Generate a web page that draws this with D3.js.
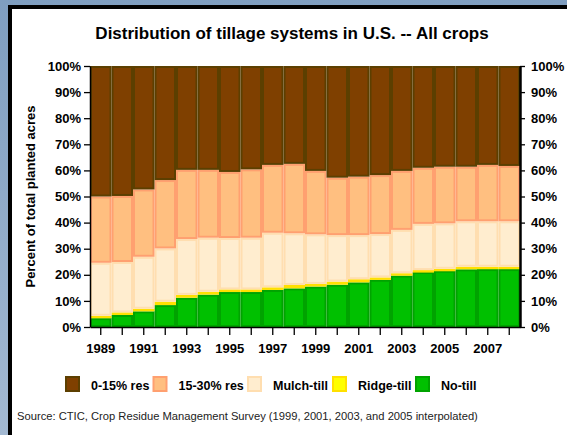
<!DOCTYPE html>
<html><head><meta charset="utf-8">
<script src="https://cdn.jsdelivr.net/npm/d3@7"></script>
<style>
html,body{margin:0;padding:0;background:#fff;}
svg{display:block;font-family:"Liberation Sans",Arial,sans-serif;}
</style></head>
<body>
<svg id="chart" width="567" height="435"></svg>
<script>
const years = [1989,1990,1991,1992,1993,1994,1995,1996,1997,1998,1999,2000,2001,2002,2003,2004,2005,2006,2007,2008];
const noTill   = [3.4,4.6,6.0,8.4,11.2,12.4,13.4,13.4,14.2,14.8,15.5,16.2,17.1,18.1,19.7,21.1,21.6,22.1,22.2,22.2];
const ridgeTill= [0.9,1.0,1.0,1.3,1.1,1.1,1.0,1.0,1.0,1.3,1.0,1.2,1.2,0.9,0.9,0.7,0.7,1.0,0.9,0.9];
const mulchTill= [20.3,19.3,19.9,20.4,21.4,20.7,19.7,19.8,20.9,19.8,19.0,17.8,16.9,16.6,16.6,17.7,17.4,17.4,17.4,17.4];
const res15to30= [25.4,25.3,25.8,26.2,26.5,26.0,25.3,26.2,26.0,26.6,24.3,22.0,22.4,22.6,22.6,21.5,21.7,20.9,21.6,21.2];
const res0to15 = [50.0,49.8,47.3,43.7,39.8,39.8,40.6,39.6,37.9,37.5,40.2,42.8,42.4,41.8,40.2,39.0,38.6,38.6,37.9,38.3];
const yearTickLabels = [1989,1991,1993,1995,1997,1999,2001,2003,2005,2007];
const yTicks = [0,10,20,30,40,50,60,70,80,90,100];
const seriesKeys  = ["noTill","ridgeTill","mulchTill","res15to30","res0to15"];
const seriesNames = {res0to15:"0-15% res",res15to30:"15-30% res",mulchTill:"Mulch-till",ridgeTill:"Ridge-till",noTill:"No-till"};
const legendOrder = ["res0to15","res15to30","mulchTill","ridgeTill","noTill"];
const fills   = {res0to15:"#7f4000",res15to30:"#ffbf80",mulchTill:"#ffedcf",ridgeTill:"#ffff00",noTill:"#00c000"};
const strokes = {res0to15:"#5c3f00",res15to30:"#ffa070",mulchTill:"#ffdeb0",ridgeTill:"#ffe000",noTill:"#00a300"};

const table = years.map((y,i)=>({year:y,noTill:noTill[i],ridgeTill:ridgeTill[i],mulchTill:mulchTill[i],res15to30:res15to30[i],res0to15:res0to15[i]}));

const svg = d3.select("#chart");
const W=567,H=435;
const defs = svg.append("defs");
const grad = defs.append("linearGradient").attr("id","bg").attr("x1","0").attr("y1","0").attr("x2","0").attr("y2","1");
grad.append("stop").attr("offset","0").attr("stop-color","#7f9ec0");
grad.append("stop").attr("offset","1").attr("stop-color","#a3b9d2");
svg.append("rect").attr("width",W).attr("height",H).attr("fill","url(#bg)");
svg.append("rect").attr("x",8).attr("y",5).attr("width",W-8).attr("height",H-5).attr("fill","#000");
svg.append("rect").attr("x",12).attr("y",9).attr("width",W-12).attr("height",H-9).attr("fill","#fff");

const L=90,R=520,T=66,B=327;
const x = d3.scaleBand().domain(years).range([L,R]).padding(0);
const y = d3.scaleLinear().domain([0,100]).range([B,T]);

const stack = d3.stack().keys(seriesKeys)(table);
const g = svg.append("g");
stack.forEach(s=>{
  g.selectAll(null).data(s).enter().append("rect")
    .attr("x",d=>x(d.data.year)+1)
    .attr("width",x.bandwidth()-2)
    .attr("y",d=>y(d[1])+1)
    .attr("height",d=>Math.max(0.5,y(d[0])-y(d[1])-2))
    .attr("fill",fills[s.key])
    .attr("stroke",strokes[s.key])
    .attr("stroke-width",2);
});

const fontAx = "bold 13px 'Liberation Sans', Arial, sans-serif";
const yl = svg.append("g").attr("transform",`translate(${L},0)`)
  .call(d3.axisLeft(y).tickValues(yTicks).tickFormat(d=>d+"%").tickSize(6).tickSizeOuter(0));
const yr = svg.append("g").attr("transform",`translate(${R},0)`)
  .call(d3.axisRight(y).tickValues(yTicks).tickFormat(d=>d+"%").tickSize(5).tickSizeOuter(0));
const xa = svg.append("g").attr("transform",`translate(0,${B})`)
  .call(d3.axisBottom(x).tickValues(years).tickFormat(d=>yearTickLabels.includes(d)?d:"").tickSize(8).tickSizeOuter(0));
[yl,yr,xa].forEach(a=>{
  a.selectAll("text").style("font",fontAx).attr("fill","#000");
  a.selectAll("line").attr("stroke","#000").attr("stroke-width",1.3);
  a.select(".domain").attr("stroke","#000").attr("stroke-width",1.5);
});
yl.selectAll("text").attr("x",-9);
yr.selectAll("text").attr("x",11);
yr.select(".domain").attr("stroke-width",2.5);
xa.selectAll("text").attr("y",17);

svg.append("text").attr("x",292).attr("y",39).attr("text-anchor","middle")
  .style("font","bold 17px 'Liberation Sans', Arial, sans-serif").text("Distribution of tillage systems in U.S. -- All crops");
svg.append("text").attr("transform",`translate(35,${(T+B)/2}) rotate(-90)`).attr("text-anchor","middle")
  .style("font","bold 13px 'Liberation Sans', Arial, sans-serif").text("Percent of total planted acres");

const legX = [65,152.5,247,332,415];
const lg = svg.append("g");
legendOrder.forEach((k,i)=>{
  lg.append("rect").attr("x",legX[i]+1).attr("y",377).attr("width",13).attr("height",14)
    .attr("fill",fills[k]).attr("stroke",strokes[k]).attr("stroke-width",2);
  lg.append("text").attr("x",legX[i]+26).attr("y",389.5)
    .style("font","bold 12.5px 'Liberation Sans', Arial, sans-serif").text(seriesNames[k]);
});
svg.append("text").attr("x",17).attr("y",420)
  .style("font","11.2px 'Liberation Sans', Arial, sans-serif").attr("fill","#222")
  .text("Source:  CTIC, Crop Residue Management Survey (1999, 2001, 2003, and 2005 interpolated)");
</script>
</body></html>
